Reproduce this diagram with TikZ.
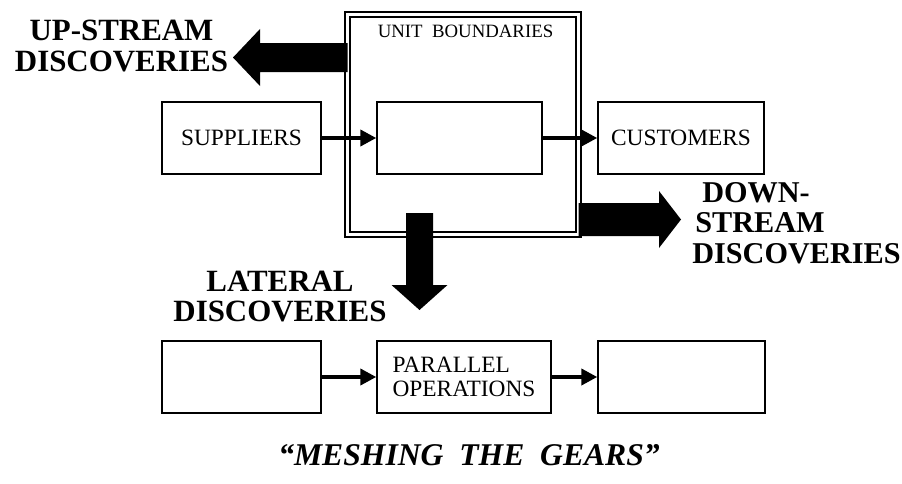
\documentclass[tikz,border=0pt]{standalone}
\usepackage{fontspec}
\setmainfont{Liberation Serif}
\usepackage{tikz}
\usetikzlibrary{arrows.meta}

\begin{document}
\begin{tikzpicture}[
  box/.style={draw, line width=0.8pt, minimum height=1.44cm, inner sep=2pt,
    font=\fontsize{13.3}{13.3}\selectfont, align=left},
  flow/.style={draw, line width=2.2pt, -{Triangle[length=0.32cm,width=0.32cm]}},
  bigtext/.style={font=\fontsize{17.6}{17.5}\selectfont\bfseries},
  bigarrow/.style={fill=black}
]
\useasboundingbox (0,0) rectangle (18.04,9.66);
% unit boundary
\node[draw, line width=1pt, double, double distance=2.2pt,
  minimum width=4.62cm, minimum height=4.4cm] (unit) at (9.26,7.17) {};
\node[font=\fontsize{10.7}{11}\selectfont] (unitlabel) at (9.31,9.04) {UNIT\ \ BOUNDARIES};
% top row
\node[box, minimum width=3.18cm] (suppliers) at (4.83,6.9) {SUPPLIERS};
\node[box, minimum width=3.3cm] (core) at (9.19,6.9) {};
\node[box, minimum width=3.32cm] (customers) at (13.62,6.9) {CUSTOMERS};
\draw[flow] (suppliers) -- (core);
\draw[flow] (core) -- (customers);
% bottom row
\node[box, minimum width=3.18cm] (left) at (4.83,2.12) {};
\node[box, minimum width=3.48cm] (parallel) at (9.28,2.12) {PARALLEL\\OPERATIONS};
\node[box, minimum width=3.34cm] (right) at (13.63,2.12) {};
\draw[flow] (left) -- (parallel);
\draw[flow] (parallel) -- (right);
% discoveries
\fill[bigarrow] (6.95,8.80) -- (5.2,8.80) -- (5.2,9.08) -- (4.66,8.51)
  -- (5.2,7.94) -- (5.2,8.22) -- (6.95,8.22) -- cycle;
\fill[bigarrow] (11.57,5.60) -- (13.18,5.60) -- (13.18,5.84) -- (13.62,5.27)
  -- (13.18,4.70) -- (13.18,4.94) -- (11.57,4.94) -- cycle;
\fill[bigarrow] (8.12,5.40) -- (8.12,3.96) -- (7.83,3.96) -- (8.39,3.46)
  -- (8.95,3.96) -- (8.66,3.96) -- (8.66,5.40) -- cycle;
\node[bigtext, align=center] (upstream) at (2.43,8.74) {UP-STREAM\\DISCOVERIES};
\node[bigtext, font=\fontsize{17.2}{17.5}\selectfont\bfseries, align=left,
  anchor=west, inner sep=0pt] (downstream) at (13.84,5.2)
  {\hspace{0.2cm}DOWN-\\\hspace{0.06cm}STREAM\\DISCOVERIES};
\node[bigtext, align=center] (lateral) at (5.6,3.73) {LATERAL\\DISCOVERIES};
% caption
\node[font=\fontsize{18}{18}\selectfont\bfseries\itshape] (title) at (9.38,0.56)
  {“MESHING\ \ THE\ \ GEARS”};
\end{tikzpicture}
\end{document}
